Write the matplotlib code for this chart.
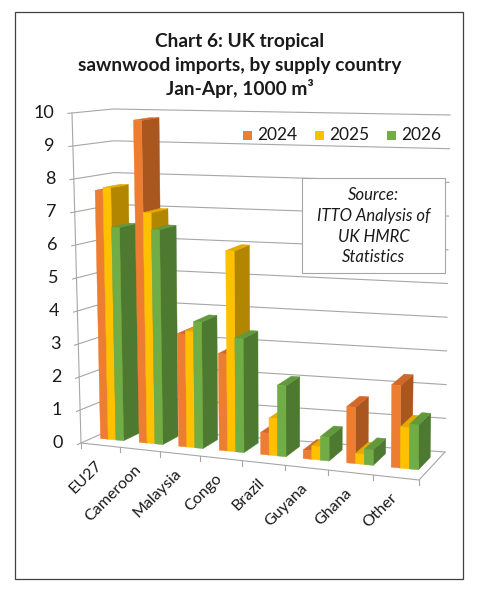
import numpy as np
import matplotlib
matplotlib.use('Agg')
import matplotlib.pyplot as plt
from matplotlib.patches import Polygon, Rectangle

plt.rcParams['font.family'] = ['Lato', 'DejaVu Sans']

countries = ['EU27', 'Cameroon', 'Malaysia', 'Congo', 'Brazil', 'Guyana', 'Ghana', 'Other']
years = ['2024', '2025', '2026']
v2024 = [7.6, 9.8, 3.4, 2.9, 0.65, 0.25, 1.65, 2.4]
v2025 = [7.7, 7.0, 3.5, 6.0, 1.1, 0.4, 0.3, 1.2]
v2026 = [6.5, 6.5, 3.8, 3.4, 2.1, 0.7, 0.45, 1.3]
yticks = list(range(0, 11))

front_cols = ['#ED7D31', '#FFC000', '#70AD47']
side_cols = ['#A9561F', '#B38600', '#4D7A30']
top_cols = ['#D2672A', '#E3AA00', '#62993D']

# screen position of the corners of the 3d box: (u across, d depth, v/vmax)
corners = {
    (0, 0, 0): (81, 443), (0, 0, 1): (72, 113),
    (1, 0, 0): (419, 480), (1, 0, 1): (422, 130),
    (0, 1, 0): (117, 427), (0, 1, 1): (113, 109),
    (1, 1, 0): (445, 452), (1, 1, 1): (450, 115),
}
K = 0.91     # perspective squeeze along the category axis
VMAX = 10.0


def proj(u, d, v):
    p = K * u / (1 + (K - 1) * u)
    t = v / VMAX
    x = y = 0.0
    for (a, b, c), (sx, sy) in corners.items():
        w = (p if a else 1 - p) * (d if b else 1 - d) * (t if c else 1 - t)
        x += w * sx
        y += w * sy
    return x, y


fig = plt.figure(figsize=(4.79, 5.93), dpi=100)
ax = fig.add_axes([0, 0, 1, 1])
ax.set_xlim(0, 479)
ax.set_ylim(593, 0)
ax.axis('off')

# outer frame
ax.add_patch(Rectangle((15.5, 12), 447.5, 567, fill=False, ec='#404040', lw=0.9, zorder=0))

grid_c = '#A6A6A6'
for v in yticks:
    x0, y0 = proj(0, -0.1, v)
    x1, y1 = proj(0, 1, v)
    x2, y2 = proj(1, 1, v)
    ax.plot([x0, x1, x2], [y0, y1, y2], color=grid_c, lw=0.8, zorder=1)
    xl, yl = proj(0, 0, v)
    ax.text(xl - 18, yl, str(v), ha='right', va='center', fontsize=13, color='#1a1a1a')

# axis line, floor edges
pts = [proj(0, 0, VMAX), proj(0, 0, 0), proj(1, 0, 0), proj(1, 1, 0)]
ax.plot([p[0] for p in pts], [p[1] for p in pts], color=grid_c, lw=0.8, zorder=1)

n = len(countries)
for k in range(n + 1):
    x, y = proj(k / n, 0, 0)
    ax.plot([x, x], [y, y + 5], color=grid_c, lw=0.8, zorder=1)

for i, name in enumerate(countries):
    x, y = proj((i + 0.5) / n, 0, 0)
    ax.text(x - 1, y + 18, name, rotation=45, ha='right', va='center',
            rotation_mode='anchor', fontsize=11.5, color='#1a1a1a')

# bars
series = [v2024, v2025, v2026]
bw = 0.2
d0, d1 = 0.33, 0.78
z = 2
for i in range(n):
    for j, vals in enumerate(series):
        h = vals[i]
        ul = (i + 0.2 + bw * j) / n
        ur = ul + bw / n
        front = [proj(ul, d0, 0), proj(ur, d0, 0), proj(ur, d0, h), proj(ul, d0, h)]
        side = [proj(ur, d0, 0), proj(ur, d1, 0), proj(ur, d1, h), proj(ur, d0, h)]
        top = [proj(ul, d0, h), proj(ur, d0, h), proj(ur, d1, h), proj(ul, d1, h)]
        for poly, col in [(side, side_cols[j]), (top, top_cols[j]), (front, front_cols[j])]:
            ax.add_patch(Polygon(poly, closed=True, fc=col, ec=col, lw=0.3, zorder=z))
        z += 0.01

# title
title_lines = ['Chart 6: UK tropical', 'sawnwood imports, by supply country', 'Jan-Apr, 1000 m³']
for line, ty in zip(title_lines, [41, 65, 88]):
    ax.text(240, ty, line, ha='center', va='center', fontsize=13.8, weight='bold', color='#1a1a1a')

# legend
lx = [243, 315, 387]
for j, yr in enumerate(years):
    ax.add_patch(Rectangle((lx[j], 130.5), 9, 9, fc=front_cols[j], ec='none', zorder=6))
    ax.text(lx[j] + 14, 135, yr, ha='left', va='center', fontsize=12.5, color='#1a1a1a')

# source box
ax.add_patch(Rectangle((302, 178), 143, 95, fc='white', ec='#A6A6A6', lw=0.8, zorder=6))
src = ['Source:', 'ITTO Analysis of', 'UK HMRC', 'Statistics']
for line, sy in zip(src, [195, 216, 236.5, 256.5]):
    ax.text(373.5, sy, line, ha='center', va='center', fontsize=12, style='italic',
            color='#1a1a1a', zorder=7)

fig.savefig('out.png', dpi=100)
